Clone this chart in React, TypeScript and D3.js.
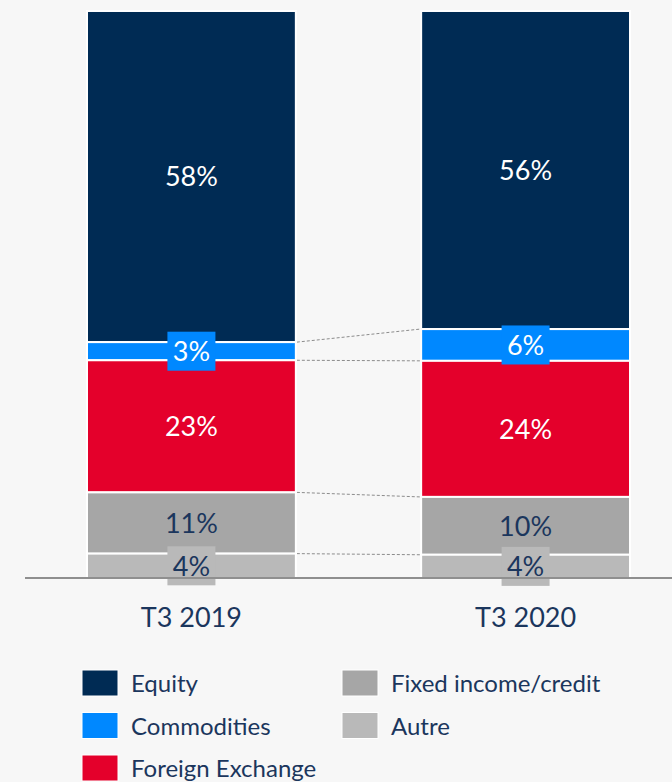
import * as d3 from 'd3';

const WIDTH = 672;
const HEIGHT = 782;

const periods = ['T3 2019', 'T3 2020'];
const segments = ['Equity', 'Commodities', 'Foreign Exchange', 'Fixed income/credit', 'Autre'];
// share of each segment, top to bottom
const values2019 = [58.4, 3.2, 23.3, 10.8, 4.3];
const values2020 = [56.1, 5.6, 24.0, 10.2, 4.1];
const labels2019 = ['58%', '3%', '23%', '11%', '4%'];
const labels2020 = ['56%', '6%', '24%', '10%', '4%'];

const colors = ['#002b54', '#0088ff', '#e4002b', '#a6a6a6', '#b9b9b9'];
const textColors = ['#ffffff', '#ffffff', '#ffffff', '#1b365d', '#1b365d'];
const boxed = [false, true, false, false, true];

const FONT = 'Lato, "Open Sans", sans-serif';
const NAVY = '#1b365d';

const App = () => {
  const x = d3.scaleBand<string>()
    .domain(periods)
    .range([87, 630])
    .paddingInner(0.375)
    .paddingOuter(0);

  const y = d3.scaleLinear().domain([0, 100]).range([578, 11]);

  const series = [values2019, values2020];
  const labels = [labels2019, labels2020];

  // stack top to bottom: segment 0 at the top
  const stacks = series.map(vals => {
    let acc = 100;
    return vals.map(v => {
      const top = acc;
      acc -= v;
      return { top, bottom: acc };
    });
  });

  const bw = x.bandwidth();

  return (
    <svg width={WIDTH} height={HEIGHT} style={{ position: 'absolute', left: 0, top: 0, background: '#f7f7f7' }}>
      <rect x={0} y={0} width={WIDTH} height={HEIGHT} fill="#f7f7f7" />

      {/* connector lines between bars */}
      {[1, 2, 3, 4].map(i => (
        <line
          key={'c' + i}
          x1={(x(periods[0]) as number) + bw + 1}
          x2={(x(periods[1]) as number) - 1}
          y1={y(stacks[0][i].top)}
          y2={y(stacks[1][i].top)}
          stroke="#8c8c8c"
          strokeWidth={1}
          strokeDasharray="3,2"
        />
      ))}

      {periods.map((p, pi) => (
        <g key={p}>
          {stacks[pi].map((s, si) => (
            <rect
              key={si}
              x={x(p)}
              y={y(s.top)}
              width={bw}
              height={y(s.bottom) - y(s.top)}
              fill={colors[si]}
              stroke="#ffffff"
              strokeWidth={2}
            />
          ))}
          {stacks[pi].map((s, si) => {
            const cx = (x(p) as number) + bw / 2;
            const cy = (y(s.top) + y(s.bottom)) / 2;
            return (
              <g key={'l' + si}>
                {boxed[si] && (
                  <rect x={cx - 24} y={cy - 19.5} width={48} height={39} fill={colors[si]} />
                )}
                <text
                  x={cx}
                  y={cy}
                  dy="0.36em"
                  textAnchor="middle"
                  fontFamily={FONT}
                  fontSize={27}
                  fill={textColors[si]}
                >
                  {labels[pi][si]}
                </text>
              </g>
            );
          })}
          <text
            x={(x(p) as number) + bw / 2}
            y={627}
            textAnchor="middle"
            fontFamily={FONT}
            fontSize={27}
            fill={NAVY}
          >
            {p}
          </text>
        </g>
      ))}

      <line x1={25} x2={WIDTH} y1={578} y2={578} stroke="#8f8f8f" strokeWidth={2} />

      {/* legend */}
      {segments.map((s, i) => {
        const col = i < 3 ? 0 : 1;
        const row = i < 3 ? i : i - 3;
        const lx = col === 0 ? 82 : 342;
        const ly = 670 + row * 42.5;
        return (
          <g key={s}>
            <rect x={lx} y={ly} width={36} height={26} fill={colors[i]} stroke="#ffffff" strokeWidth={1} />
            <text x={lx + 49} y={ly + 22} fontFamily={FONT} fontSize={24} fill={NAVY}>
              {s}
            </text>
          </g>
        );
      })}
    </svg>
  );
};

export default App;
